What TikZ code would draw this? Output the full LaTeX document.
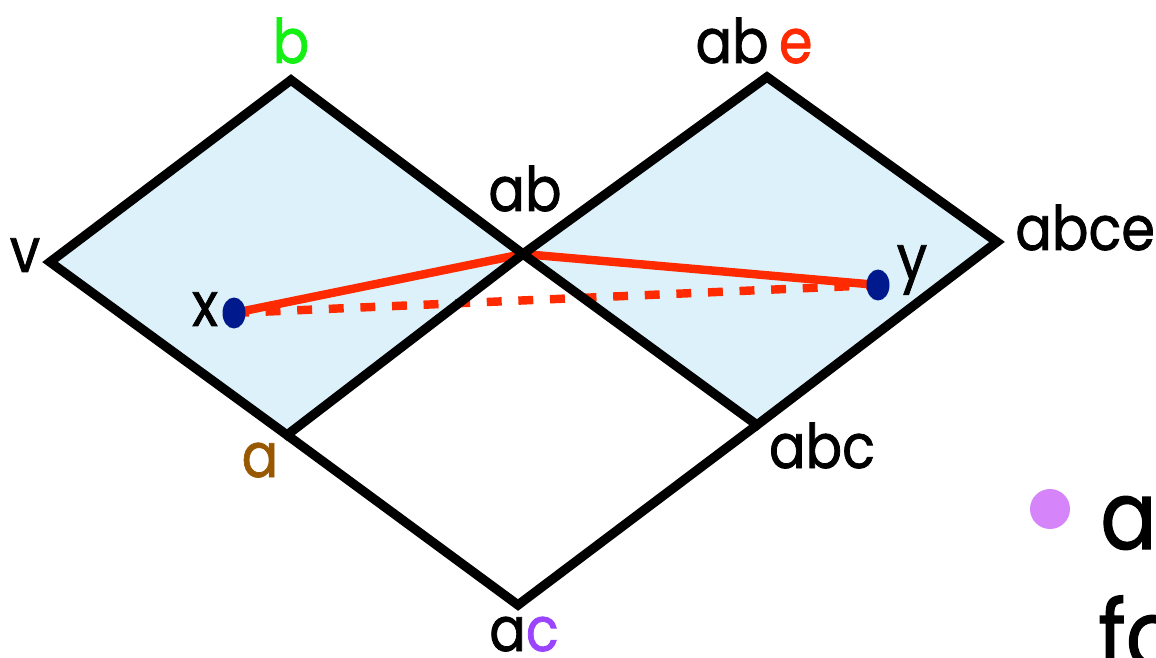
\documentclass[tikz,border=0pt]{standalone}
\usepackage{fontspec}
\setmainfont{Poppins}[FakeStretch=0.88, FakeBold=1.2]
\usetikzlibrary{shapes.geometric}
\definecolor{facefill}{HTML}{DDF1FB}
\definecolor{pathred}{HTML}{FF2A00}
\definecolor{dotblue}{HTML}{001A8E}
\definecolor{lblgreen}{HTML}{14F014}
\definecolor{lblbrown}{HTML}{985800}
\definecolor{lblpurple}{HTML}{9A44FF}
\definecolor{bulletpink}{HTML}{D684FA}

\begin{document}
\begin{tikzpicture}[
    x=0.02cm, y=-0.02cm,
    face/.style={fill=facefill},
    edge/.style={line width=5.3pt, line join=miter, color=black},
    redpath/.style={line width=4.8pt, color=pathred},
    reddash/.style={redpath, dash pattern=on 8.5pt off 9.5pt},
    dot/.style={ellipse, fill=dotblue, inner sep=0pt, minimum width=0.46cm, minimum height=0.62cm},
    lbl/.style={font=\fontsize{35}{40}\selectfont, inner sep=0pt, anchor=base},
    big/.style={font=\fontsize{54}{60}\selectfont, inner sep=0pt, anchor=base west}
]
\clip (0,0) rectangle (1156,658);
\useasboundingbox (0,0) rectangle (1156,658);

\coordinate (v) at (50,262);
\coordinate (b) at (291,80);
\coordinate (ab) at (523,254);
\coordinate (a) at (287,435);
\coordinate (abe) at (767,77);
\coordinate (abce) at (997,242);
\coordinate (abc) at (757,425);
\coordinate (ac) at (518,605);
\coordinate (xp) at (234,313);
\coordinate (yp) at (878,285);

\fill[face] (v) -- (b) -- (ab) -- (a) -- cycle;
\fill[face] (ab) -- (abe) -- (abce) -- (abc) -- cycle;

\draw[reddash] (xp) -- (yp);
\draw[redpath] (xp) -- (ab) -- (yp);

\draw[edge] (v) -- (b) -- (ab) -- (a) -- cycle;
\draw[edge] (ab) -- (abe) -- (abce) -- (abc) -- cycle;
\draw[edge] (a) -- (ac) -- (abc);

\node[dot] (x) at (xp) {};
\node[dot] (y) at (yp) {};

\node[lbl, text=lblgreen] (lb) at (291,63) {b};
\node[lbl] (labe) at (754,63) {ab\,{\color{pathred}e}};
\node[lbl] (lab) at (525,211) {ab};
\node[lbl, anchor=base west] (labce) at (1015,250) {abce};
\node[lbl] (lv) at (25,272) {v};
\node[lbl] (lx) at (205,326) {x};
\node[lbl] (ly) at (912,279) {y};
\node[lbl, text=lblbrown] (la) at (260,477) {a};
\node[lbl] (labc) at (822,468) {abc};
\node[lbl] (lac) at (524,651) {a{\color{lblpurple}c}};

\node[circle, fill=bulletpink, inner sep=0pt, minimum size=0.8cm] (bul) at (1050,509) {};
\node[big] (ta) at (1100,549) {a};
\node[big] (tf) at (1098,668) {fo};
\end{tikzpicture}
\end{document}
